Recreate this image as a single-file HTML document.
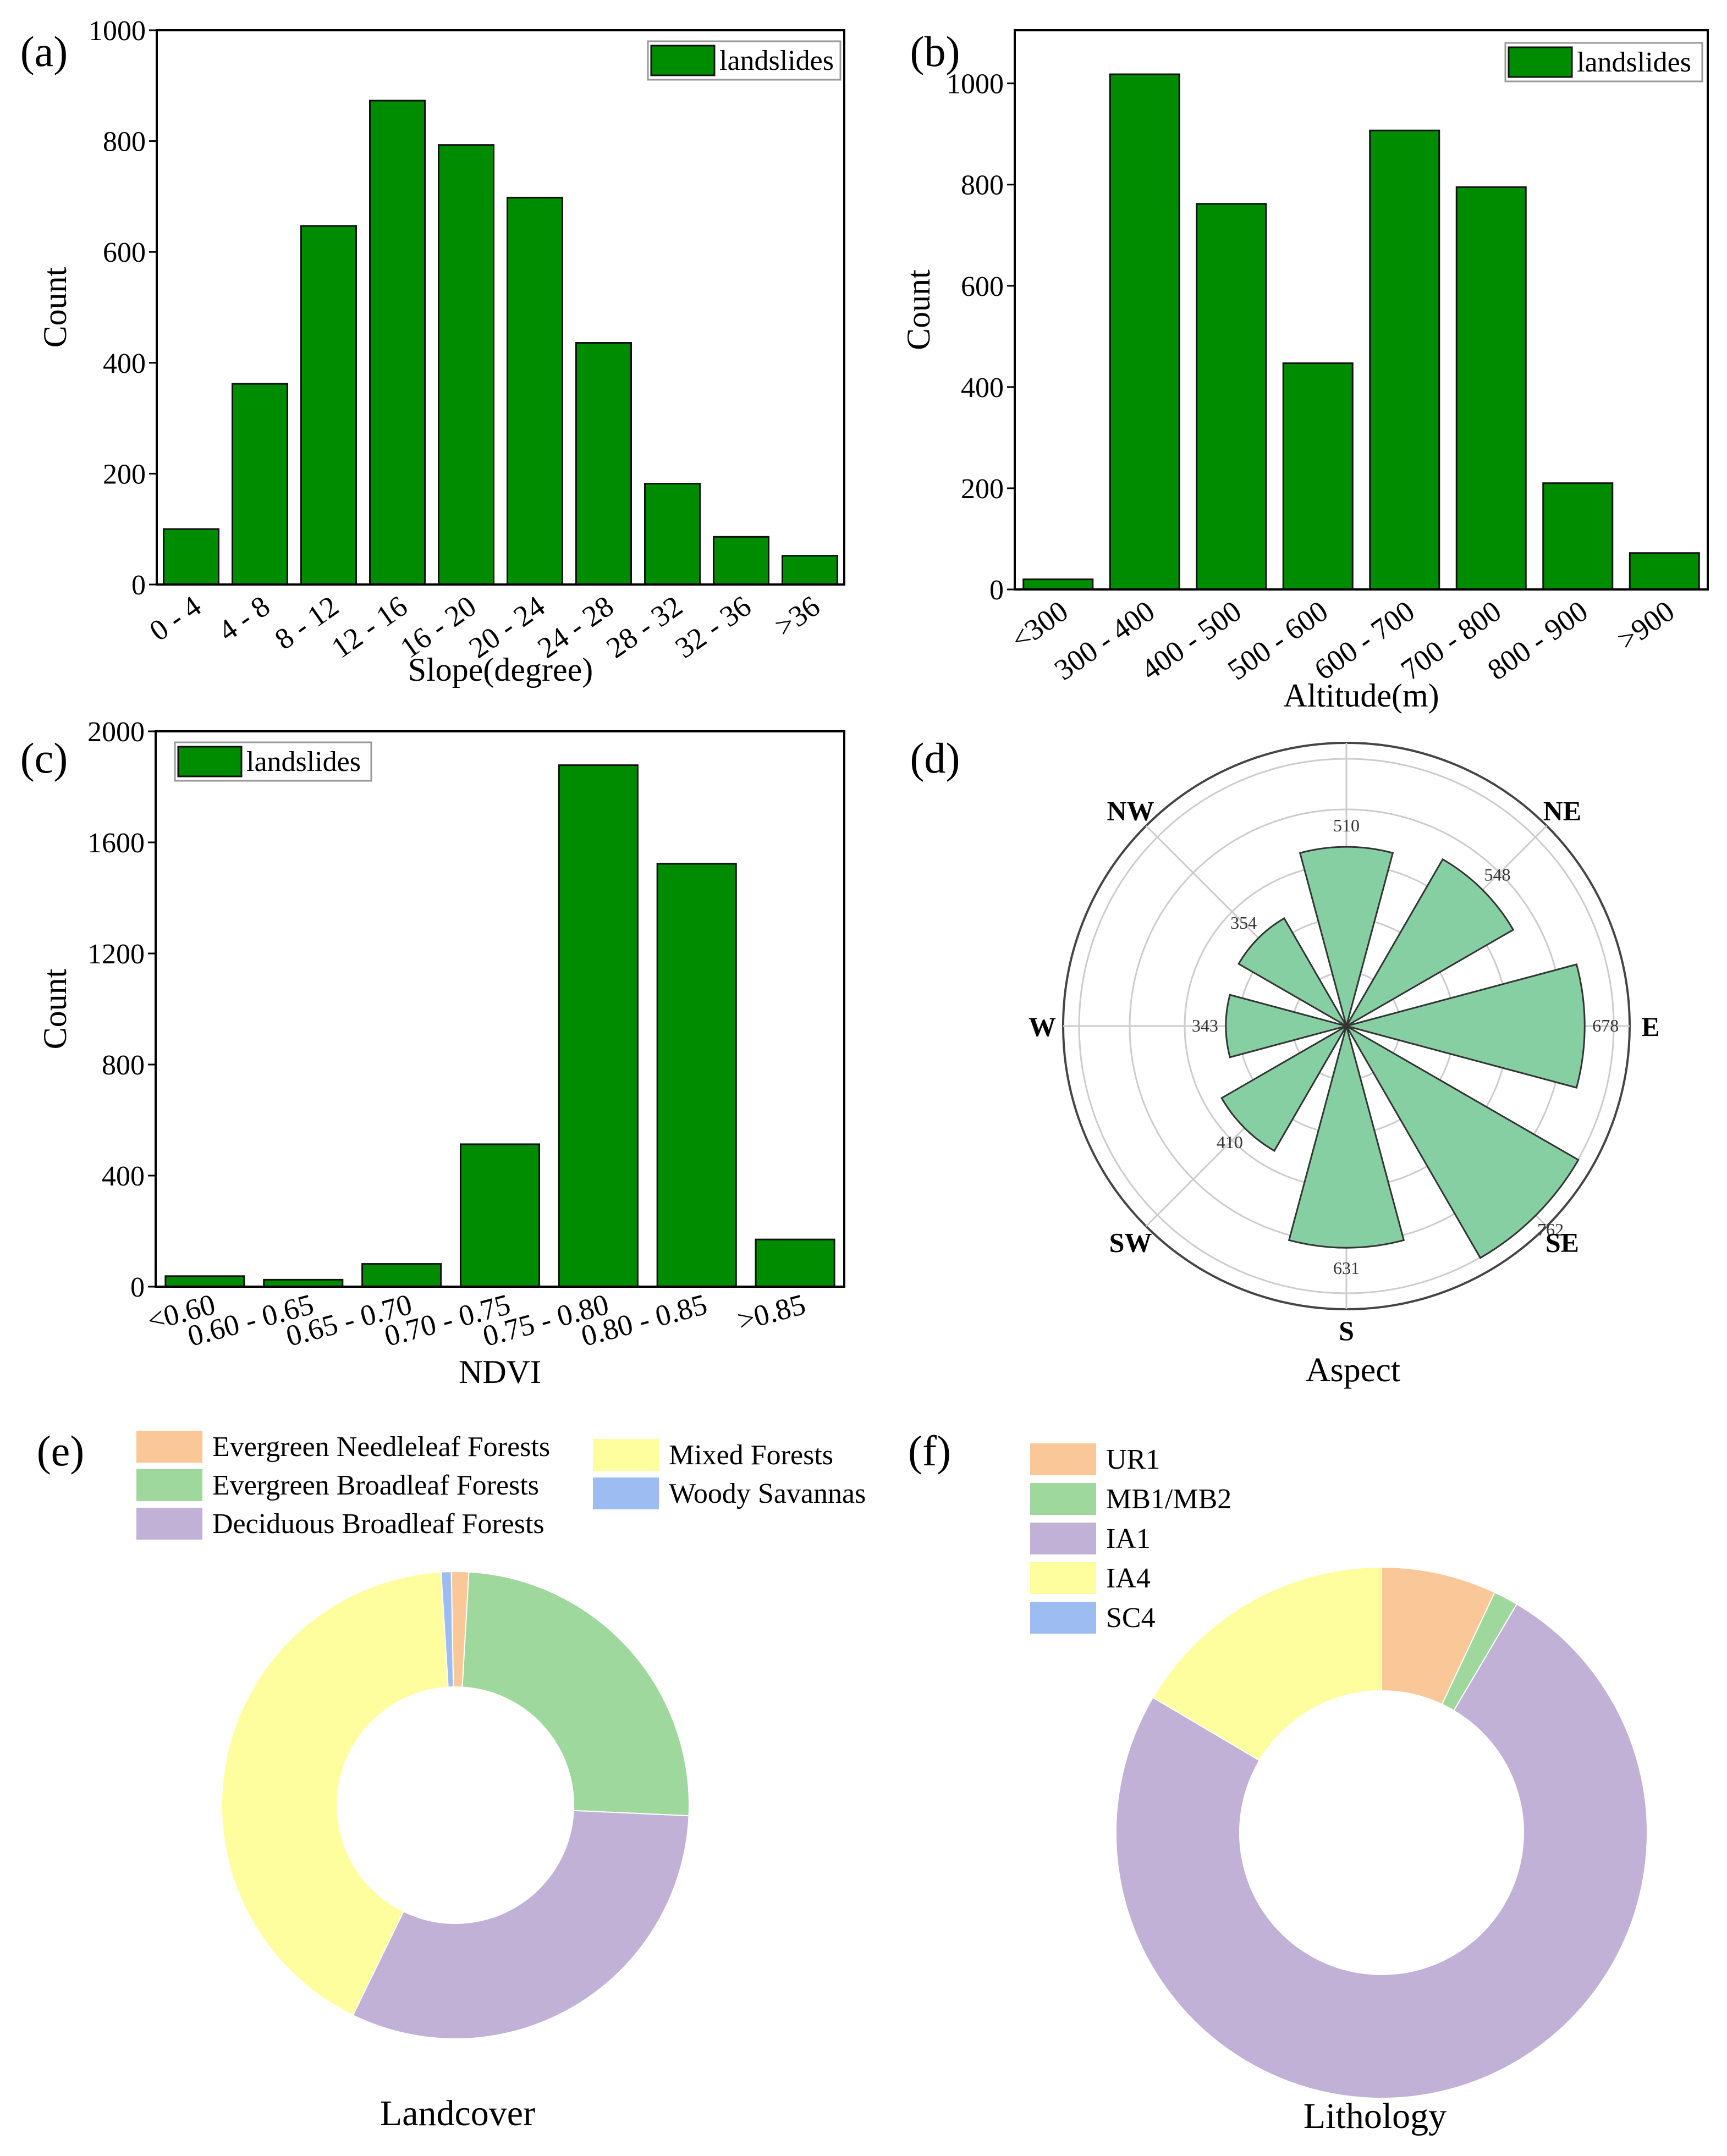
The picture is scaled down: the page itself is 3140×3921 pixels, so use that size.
<!DOCTYPE html>
<html><head><meta charset="utf-8"><style>
html,body{margin:0;padding:0;background:#fff}
svg{display:block}
svg text{font-family:"Liberation Serif","DejaVu Serif",serif}
</style></head><body>
<svg id="fig" width="3140" height="3921" viewBox="0 0 3140 3921" xmlns="http://www.w3.org/2000/svg" font-family="Liberation Serif, serif">
<rect width="3140" height="3921" fill="#fff"/>
<text x="80" y="120" font-size="78" text-anchor="middle">(a)</text>
<text x="1700" y="120" font-size="78" text-anchor="middle">(b)</text>
<text x="80" y="1405" font-size="78" text-anchor="middle">(c)</text>
<text x="1700" y="1405" font-size="78" text-anchor="middle">(d)</text>
<text x="110" y="2665" font-size="78" text-anchor="middle">(e)</text>
<text x="1690" y="2665" font-size="78" text-anchor="middle">(f)</text>
</svg>
<script>
const slopeCats=["0 - 4","4 - 8","8 - 12","12 - 16","16 - 20","20 - 24","24 - 28","28 - 32","32 - 36",">36"];
const slopeVals=[100,362,647,873,793,698,436,182,86,52];
const slopeTicks=[0,200,400,600,800,1000];
const altCats=["<300","300 - 400","400 - 500","500 - 600","600 - 700","700 - 800","800 - 900",">900"];
const altVals=[20,1018,762,447,907,795,210,72];
const altTicks=[0,200,400,600,800,1000];
const ndviCats=["<0.60","0.60 - 0.65","0.65 - 0.70","0.70 - 0.75","0.75 - 0.80","0.80 - 0.85",">0.85"];
const ndviVals=[38,25,82,513,1878,1523,170];
const ndviTicks=[0,400,800,1200,1600,2000];
const aspectDirs=["N","NE","E","SE","S","SW","W","NW"];
const aspectVals=[510,548,678,762,631,410,343,354];
const landNames=["Evergreen Needleleaf Forests","Evergreen Broadleaf Forests","Deciduous Broadleaf Forests","Mixed Forests","Woody Savannas"];
const landVals=[1.2,24.8,31.5,41.8,0.7];
const lithNames=["UR1","MB1/MB2","IA1","IA4","SC4"];
const lithVals=[7.0,1.5,75.0,16.5,0.0];

const NS="http://www.w3.org/2000/svg";
const svg=document.getElementById('fig');
function el(t,a,txt){const e=document.createElementNS(NS,t);for(const k in a)e.setAttribute(k,a[k]);if(txt!==undefined)e.textContent=txt;svg.appendChild(e);return e;}

function barChart(id,cats,vals,ticks,ymax,L,R,T,B,xTitle,xTitleY,countX,leg,rot){
  const y=v=>B-(v/ymax)*(B-T);
  const slot=(R-L)/cats.length;
  cats.forEach((c,i)=>{
    const cx=L+slot*(i+0.5),w=slot*0.8;
    const r=el('rect',{x:cx-w/2,y:y(vals[i]),width:w,height:B-y(vals[i]),fill:'#008c00',stroke:'#111','stroke-width':3});
    
    
    const t=el('text',{x:cx+22,y:B+48,'font-size':54,'text-anchor':'end',transform:`rotate(${rot} ${cx+22} ${B+48})`},c);
    
    
  });
  ticks.forEach(v=>{
    el('line',{x1:L,x2:L-14,y1:y(v),y2:y(v),stroke:'#000','stroke-width':3});
    const t=el('text',{x:L-20,y:y(v)+18,'font-size':52,'text-anchor':'end'},v);
    
    
  });
  const f=el('rect',{x:L,y:T,width:R-L,height:B-T,fill:'none',stroke:'#000','stroke-width':4});
  
  
  const xt=el('text',{x:(L+R)/2,y:xTitleY,'font-size':60,'text-anchor':'middle'},xTitle);
  
  
  const yt=el('text',{x:countX,y:(T+B)/2,'font-size':60,'text-anchor':'middle',transform:`rotate(-90 ${countX} ${(T+B)/2})`},'Count');
  
  
  const lg=el('rect',{x:leg[0],y:leg[1],width:leg[2],height:70,fill:'#fff',stroke:'#999','stroke-width':3});
  
  
  el('rect',{x:leg[0]+6,y:leg[1]+8,width:115,height:54,fill:'#008c00',stroke:'#111','stroke-width':3});
  const lt=el('text',{x:leg[0]+130,y:leg[1]+52,'font-size':52},'landslides');
  
  
}
barChart('slope',slopeCats,slopeVals,slopeTicks,1000,285,1535,55,1063,'Slope(degree)',1238,120,[1178,75,350],-35);
barChart('altitude',altCats,altVals,altTicks,1105,1845,3105,55,1072,'Altitude(m)',1285,1690,[2737,78,358],-35);
barChart('ndvi',ndviCats,ndviVals,ndviTicks,2000,283,1535,1330,2340,'NDVI',2515,120,[318,1350,357],-15);

// polar
(function(){
  const cx=2448,cy=1866,k=0.639,Ro=515;
  [98,196,294,394,486].forEach(r=>el('circle',{cx,cy,r,fill:'none',stroke:'#ccc','stroke-width':3}));
  el('circle',{cx,cy,r:Ro,fill:'none',stroke:'#444','stroke-width':4});
  for(let i=0;i<8;i++){const a=i*Math.PI/4;el('line',{x1:cx,y1:cy,x2:cx+Math.sin(a)*Ro,y2:cy-Math.cos(a)*Ro,stroke:'#ccc','stroke-width':3});}
  aspectDirs.forEach((d,i)=>{
    const a=i*Math.PI/4,h=15*Math.PI/180,r=aspectVals[i]*k;
    const p1=[cx+Math.sin(a-h)*r,cy-Math.cos(a-h)*r],p2=[cx+Math.sin(a+h)*r,cy-Math.cos(a+h)*r];
    const p=el('path',{d:`M${cx},${cy}L${p1}A${r},${r} 0 0 1 ${p2}Z`,fill:'#86cfa3',stroke:'#333','stroke-width':3});
    
    
    const lr=r+38;
    const v=el('text',{x:cx+Math.sin(a)*lr,y:cy-Math.cos(a)*lr+10,'font-size':32,'text-anchor':'middle',fill:'#333'},aspectVals[i]);
    
    
    if(d==='N')return;
    const dr=Ro+(i%2?40:38);
    const t=el('text',{x:cx+Math.sin(a)*dr,y:cy-Math.cos(a)*dr+18,'font-size':50,'font-weight':'bold','text-anchor':'middle'},d);
    
    
  });
  const t=el('text',{x:2460,y:2512,'font-size':62,'text-anchor':'middle'},'Aspect');
  
  
})();

const colors=['#fac898','#9fd89c','#c2b1d6','#fefe9e','#9cbcf2'];
function donut(id,vals,cx,cy,R,r,start){
  const tot=vals.reduce((a,b)=>a+b,0);let a0=start*Math.PI/180;
  vals.forEach((v,i)=>{
    if(v<=0)return;
    const a1=a0+v/tot*2*Math.PI,lg=(a1-a0)>Math.PI?1:0;
    const P=(rr,a)=>[cx+Math.sin(a)*rr,cy-Math.cos(a)*rr];
    const p=el('path',{d:`M${P(R,a0)}A${R},${R} 0 ${lg} 1 ${P(R,a1)}L${P(r,a1)}A${r},${r} 0 ${lg} 0 ${P(r,a0)}Z`,fill:colors[i],stroke:'#fff','stroke-width':2});
    
    
    a0=a1;
  });
}
donut('landcover',landVals,828,3283,425,215,-1);
donut('lithology',lithVals,2512,3333,483,258,0);
function legendItem(id,x,y,c,txt){
  el('rect',{x,y:y-28,width:120,height:58,fill:c});
  const t=el('text',{x:x+138,y:y+18,'font-size':52},txt);
  
  
}
[[248,2630],[248,2700],[248,2770],[1078,2645],[1078,2715]].forEach((p,i)=>legendItem('landcover',p[0],p[1],colors[i],landNames[i]));
[2653,2725,2797,2869,2941].forEach((yy,i)=>legendItem('lithology',1873,yy,colors[i],lithNames[i]));
let t=el('text',{x:832,y:3865,'font-size':66,'text-anchor':'middle'},'Landcover');


t=el('text',{x:2500,y:3870,'font-size':66,'text-anchor':'middle'},'Lithology');


</script>
</body></html>
